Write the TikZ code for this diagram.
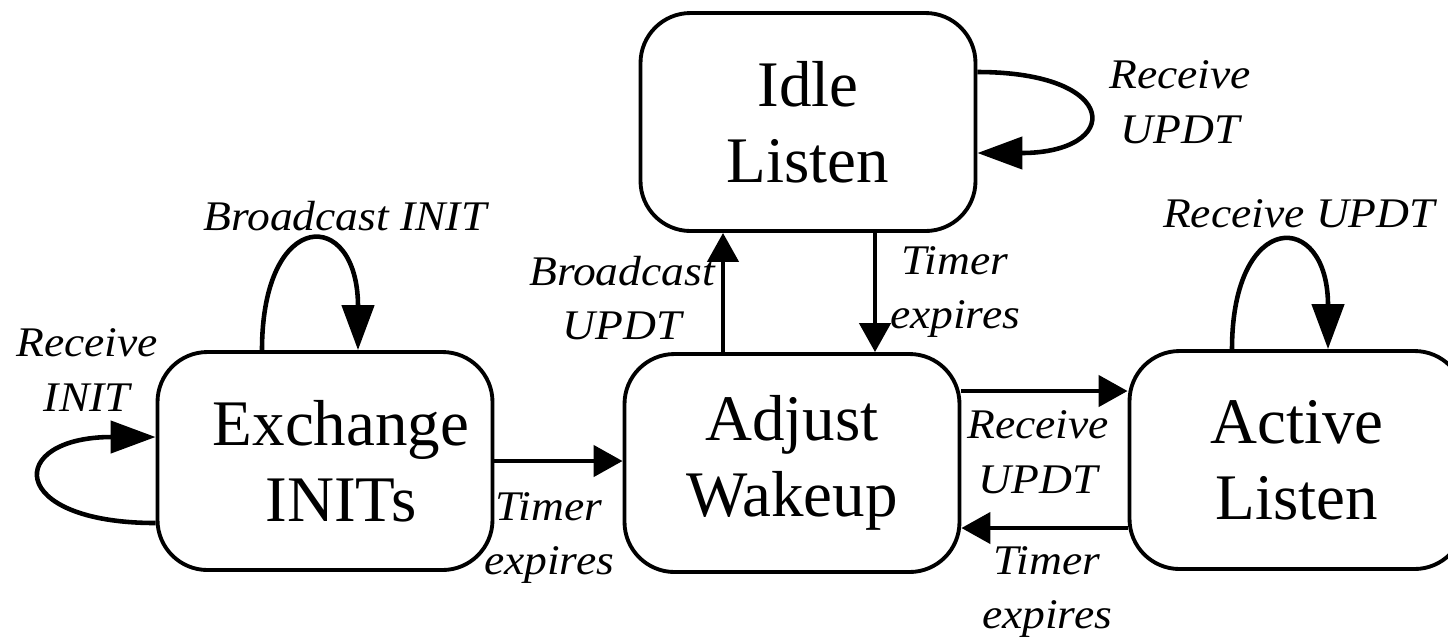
\documentclass[tikz,border=0pt]{standalone}
\usepackage{fontspec}
\setmainfont{Liberation Serif}
\newfontfamily\lblfont[FakeStretch=1.08]{Liberation Serif}
\usetikzlibrary{arrows.meta}

\begin{document}
\begin{tikzpicture}[x=0.1mm, y=-0.1mm, >={Triangle[length=2.9mm, width=3.1mm]},
	state/.style={draw, line width=1.1pt, rounded corners=5mm, minimum width=33.5mm, minimum height=21.8mm, align=center, font=\fontsize{18.5}{21.6}\selectfont},
	lbl/.style={align=center, font=\fontsize{12}{15.6}\lblfont\itshape},
	trans/.style={line width=1.3pt},
	bigtip/.style={-{Triangle[length=4.5mm, width=3.2mm]}}]
	\useasboundingbox (0,0) rectangle (1448,639);
	\node[state] (idle) at (808,122) {Idle\\Listen};
	\node[state] (xinit) at (325,461) {\hspace*{3.2mm}Exchange\\\hspace*{3.2mm}INITs};
	\node[state] (adjust) at (792,463) {Adjust\\Wakeup};
	\node[state] (active) at (1297,460) {Active\\Listen};
	\draw[trans, ->] (xinit.east) -- (xinit.east -| adjust.west);
	\draw[trans, ->] ([yshift=7.2mm]adjust.east) -- ([yshift=7.2mm]adjust.east -| active.west);
	\draw[trans, ->] ([yshift=-6.8mm]active.west) -- ([yshift=-6.8mm]active.west -| adjust.east);
	\draw[trans, ->] ([xshift=-6.9mm]adjust.north) -- ([xshift=-6.9mm]adjust.north |- idle.south);
	\draw[trans, ->] ([xshift=6.7mm]idle.south) -- ([xshift=6.7mm]idle.south |- adjust.north);
	\draw[trans, bigtip] ([xshift=-6.3mm]xinit.north) .. controls +(0,-143) and +(0,-143) .. ([xshift=3.3mm]xinit.north);
	\draw[trans, bigtip] ([yshift=-6.2mm]xinit.west) .. controls +(-150,0) and +(-150,0) .. ([yshift=2.4mm]xinit.west);
	\draw[trans, bigtip] ([yshift=5mm]idle.east) .. controls +(145,0) and +(145,0) .. ([yshift=-3.1mm]idle.east);
	\draw[trans, bigtip] ([xshift=-6.5mm]active.north) .. controls +(0,-140) and +(0,-140) .. ([xshift=3.1mm]active.north);
	\node[lbl] (bcinit) at (345,216) {Broadcast INIT};
	\node[lbl] (rcinit) at (87,370) {Receive\\INIT};
	\node[lbl] (bcupdt) at (622,298) {Broadcast\\UPDT};
	\node[lbl] (tmidle) at (955,292) {Timer\\expires};
	\node[lbl] (rcidle) at (1180,102) {Receive\\UPDT};
	\node[lbl] (rcactive) at (1299,214) {Receive UPDT};
	\node[lbl] (rcfwd) at (1038,452) {Receive\\UPDT};
	\node[lbl] (tmback) at (1047,592) {Timer\\expires};
	\node[lbl] (tmfwd) at (549,538) {Timer\\expires};
\end{tikzpicture}
\end{document}
